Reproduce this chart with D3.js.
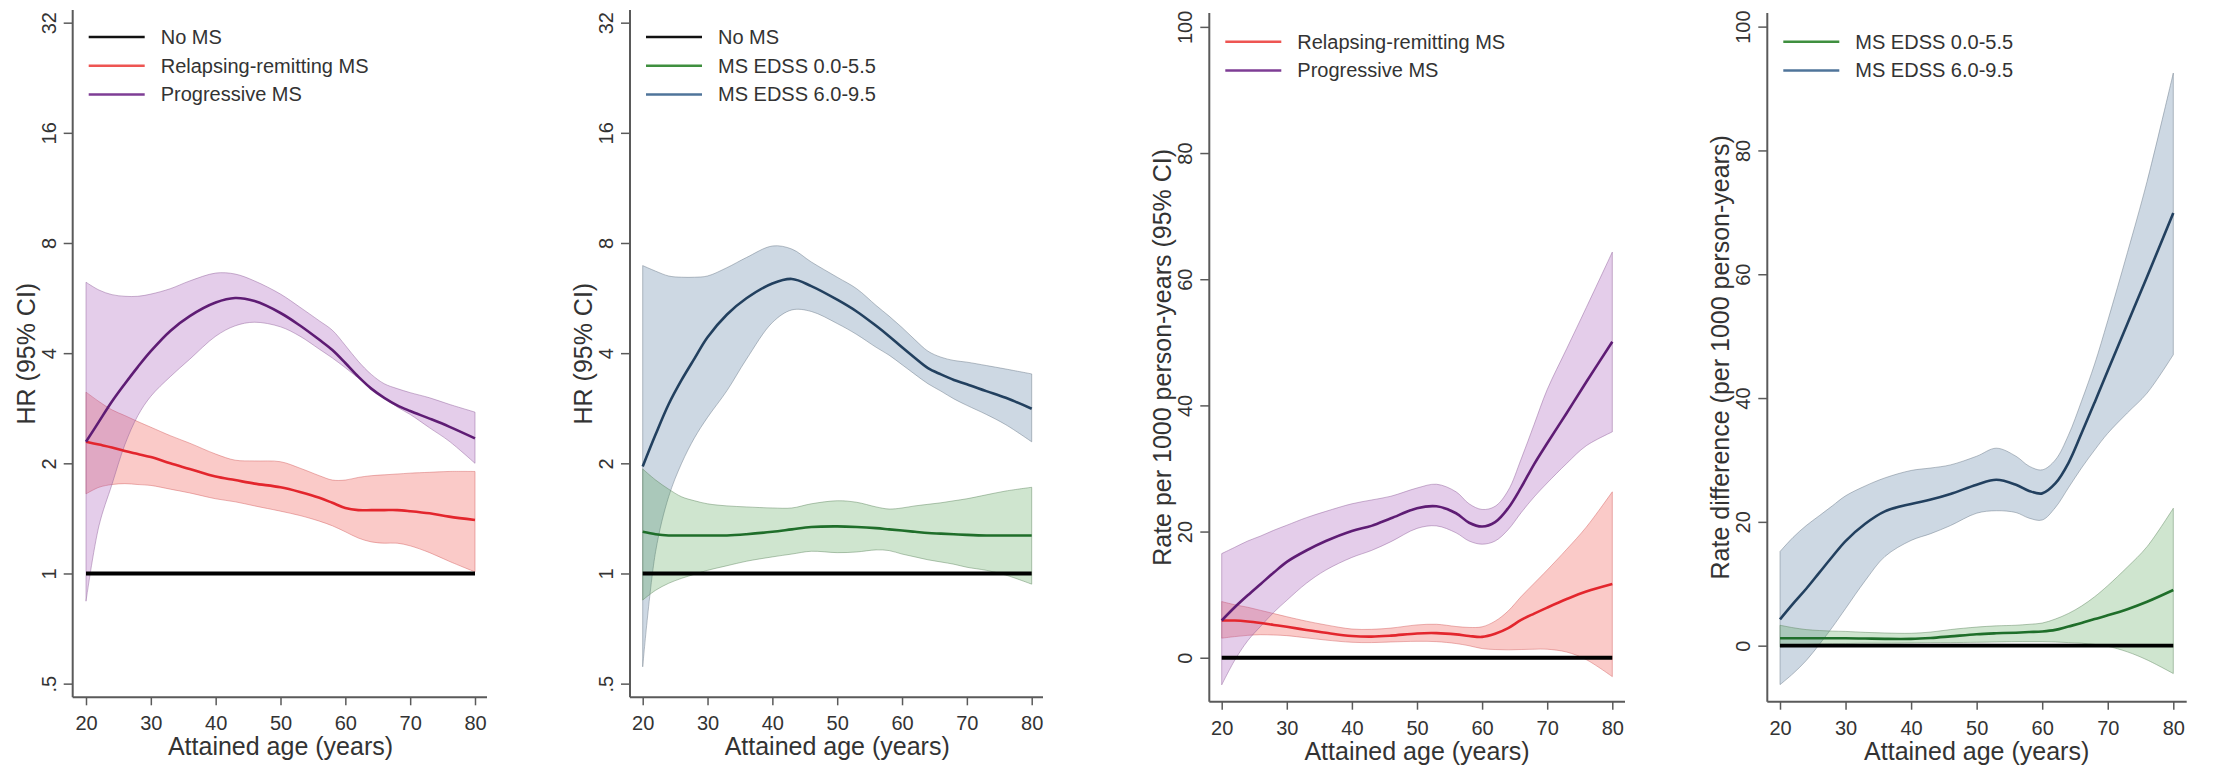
<!DOCTYPE html>
<html><head><meta charset="utf-8">
<script src="https://cdn.jsdelivr.net/npm/d3@7"></script>
<style>
body{margin:0;background:#fff}
svg{display:block}
text{font-family:"Liberation Sans",Arial,sans-serif;fill:#333}
</style>
</head><body>
<svg id="chart" width="2236" height="766"></svg>
<script>
// ---------------- DATA ----------------
const ages = [20,22,24,26,28,30,33,36,40,43,46,50,53,56,58,60,62,64,66,68,70,73,76,80];
const ageTicks = [20,30,40,50,60,70,80];
const hrTicks = [0.5,1,2,4,8,16,32];
const hrTickLabels = [".5","1","2","4","8","16","32"];
const rateTicks = [0,20,40,60,80,100];
const rateTickLabels = ["0","20","40","60","80","100"];

const noMSAges = [20,80];
const noMSHR = [1,1];
const noMSRate = [0,0];

// Panel 1: HR by MS course
const rrHR    = [2.29,2.25,2.21,2.16,2.12,2.08,2.0,1.93,1.84,1.8,1.76,1.72,1.67,1.61,1.56,1.51,1.49,1.49,1.49,1.49,1.48,1.46,1.43,1.40];
const rrHRlo  = [1.65,1.72,1.75,1.76,1.75,1.74,1.7,1.66,1.6,1.57,1.53,1.48,1.44,1.39,1.35,1.3,1.25,1.22,1.21,1.21,1.19,1.14,1.08,1.01];
const rrHRhi  = [3.13,2.95,2.8,2.7,2.6,2.51,2.38,2.27,2.12,2.04,2.03,2.02,1.94,1.85,1.8,1.8,1.83,1.85,1.86,1.87,1.88,1.89,1.9,1.9];
const progHR   = [2.29,2.6,2.95,3.3,3.67,4.05,4.6,5.05,5.5,5.66,5.55,5.15,4.76,4.35,4.08,3.76,3.45,3.2,3.02,2.88,2.78,2.65,2.52,2.34];
const progHRlo = [0.84,1.35,1.75,2.25,2.7,3.05,3.45,3.85,4.45,4.75,4.86,4.72,4.45,4.1,3.88,3.65,3.42,3.22,3.02,2.85,2.72,2.5,2.3,2.0];
const progHRhi = [6.25,5.95,5.78,5.72,5.72,5.8,6.0,6.3,6.62,6.58,6.3,5.8,5.34,4.9,4.62,4.2,3.8,3.5,3.3,3.2,3.12,3.02,2.9,2.76];

// Panel 2: HR by EDSS
const lowHR    = [1.3,1.28,1.27,1.27,1.27,1.27,1.27,1.28,1.3,1.32,1.34,1.345,1.34,1.33,1.32,1.31,1.3,1.29,1.285,1.28,1.275,1.27,1.27,1.27];
const lowHRlo  = [0.846,0.9,0.94,0.97,0.995,1.02,1.05,1.08,1.11,1.13,1.15,1.14,1.145,1.16,1.155,1.13,1.11,1.09,1.075,1.06,1.04,1.02,0.99,0.935];
const lowHRhi  = [1.93,1.8,1.7,1.62,1.58,1.55,1.53,1.52,1.51,1.51,1.55,1.58,1.565,1.52,1.5,1.51,1.53,1.545,1.56,1.58,1.6,1.64,1.68,1.72];
const highHR   = [1.96,2.4,2.9,3.38,3.87,4.42,5.1,5.65,6.2,6.38,6.1,5.6,5.2,4.75,4.45,4.15,3.88,3.64,3.5,3.38,3.29,3.15,3.02,2.82];
const highHRlo = [0.556,1.15,1.62,2.0,2.35,2.67,3.16,3.85,4.85,5.25,5.2,4.82,4.5,4.15,3.95,3.72,3.5,3.3,3.15,3.0,2.88,2.72,2.55,2.29];
const highHRhi = [6.94,6.7,6.5,6.45,6.45,6.5,6.85,7.3,7.85,7.7,7.1,6.45,6.0,5.4,5.05,4.7,4.35,4.05,3.9,3.82,3.78,3.7,3.62,3.51];

// Panel 3: rate by MS course
const rrRate    = [5.9,5.9,5.75,5.5,5.2,4.9,4.4,3.95,3.45,3.35,3.5,3.85,3.9,3.7,3.45,3.3,3.8,4.7,6.0,7.0,7.95,9.3,10.5,11.7];
const rrRatelo  = [3.1,3.35,3.55,3.65,3.6,3.5,3.15,2.8,2.45,2.4,2.5,2.6,2.55,2.25,1.9,1.45,1.3,1.25,1.3,1.35,1.35,0.9,-0.3,-3.0];
const rrRatehi  = [8.9,8.4,8.0,7.5,7.0,6.5,5.8,5.2,4.55,4.5,4.7,5.2,5.3,4.95,4.8,4.9,5.8,7.4,9.7,11.8,13.9,17.2,20.7,26.3];
const progRate   = [5.9,8.0,9.9,11.7,13.5,15.2,17.0,18.5,20.1,20.9,22.1,23.7,24.0,22.9,21.4,20.8,21.5,23.7,27.0,30.7,34.0,38.8,43.7,50.1];
const progRatelo = [-4.3,-0.4,2.7,5.0,7.2,9.1,11.8,13.9,15.9,17.0,18.4,20.5,20.9,19.8,18.5,18.0,18.5,20.3,23.0,25.5,27.7,30.8,33.6,35.8];
const progRatehi = [16.5,17.5,18.5,19.3,20.2,21.0,22.2,23.2,24.4,25.0,25.6,26.9,27.5,26.3,24.4,23.5,24.0,26.5,31.5,37.0,42.5,49.0,55.5,64.3];

// Panel 4: rate difference by EDSS
const lowRate    = [1.2,1.2,1.2,1.2,1.2,1.2,1.15,1.1,1.1,1.25,1.5,1.85,2.0,2.1,2.2,2.3,2.55,3.1,3.65,4.3,4.9,5.9,7.1,9.0];
const lowRatelo  = [-0.2,0.0,0.2,0.3,0.35,0.35,0.4,0.4,0.45,0.5,0.5,0.55,0.6,0.65,0.65,0.65,0.6,0.5,0.4,0.2,-0.1,-1.0,-2.3,-4.5];
const lowRatehi  = [3.3,2.9,2.6,2.45,2.35,2.3,2.15,2.05,2.0,2.2,2.6,3.0,3.2,3.3,3.45,3.65,4.3,5.2,6.4,7.9,9.7,12.7,16.0,22.2];
const highRate   = [4.26,6.8,9.2,11.8,14.4,16.9,19.7,21.7,22.9,23.6,24.5,26.0,26.8,26.0,25.0,24.6,26.2,29.5,34.3,39.3,44.4,52.0,59.6,69.9];
const highRatelo = [-6.3,-4.5,-2.4,0.2,3.0,6.0,10.5,14.4,17.0,18.1,19.4,21.4,21.8,21.5,20.6,20.3,22.3,25.5,28.7,31.6,34.3,37.6,40.8,47.0];
const highRatehi = [15.2,17.5,19.4,21.0,22.6,24.2,25.8,27.1,28.3,28.7,29.2,30.6,31.9,30.6,29.0,28.4,30.0,34.0,39.5,45.5,52.5,63.5,75.0,92.5];

// ---------------- STYLES ----------------
const COL = {
  none:  {line:"#000000"},
  rr:    {line:"#e3262d", band:"rgba(240,80,72,0.30)", edge:"rgba(210,90,90,0.45)", leg:"#ee5552"},
  prog:  {line:"#5e1c74", band:"rgba(165,90,185,0.30)", edge:"rgba(140,90,150,0.45)", leg:"#7e3d95"},
  low:   {line:"#1f6e2a", band:"rgba(70,155,70,0.26)", edge:"rgba(90,130,90,0.45)", leg:"#3f8f3f"},
  high:  {line:"#22405f", band:"rgba(70,110,150,0.27)", edge:"rgba(100,115,130,0.45)", leg:"#4f749a"}
};

const panels = [
  {axisX:72.7, xAxisY:697.3, top:10, xr:[86,475], xEnd:487, log:true,
   yTitle:"HR (95% CI)", legY:37,
   series:[
     {key:"rr", est:rrHR, lo:rrHRlo, hi:rrHRhi},
     {key:"prog", est:progHR, lo:progHRlo, hi:progHRhi}],
   ref:noMSHR,
   legend:[["none","No MS"],["rr","Relapsing-remitting MS"],["prog","Progressive MS"]]},
  {axisX:630, xAxisY:697.3, top:10, xr:[642.7,1031.7], xEnd:1043, log:true,
   yTitle:"HR (95% CI)", legY:37,
   series:[
     {key:"high", est:highHR, lo:highHRlo, hi:highHRhi},
     {key:"low", est:lowHR, lo:lowHRlo, hi:lowHRhi}],
   ref:noMSHR,
   legend:[["none","No MS"],["low","MS EDSS 0.0-5.5"],["high","MS EDSS 6.0-9.5"]]},
  {axisX:1209.3, xAxisY:701.7, top:13, xr:[1221.7,1612.3], xEnd:1625, log:false, yDom:[-6.97,102.2],
   yTitle:"Rate per 1000 person-years (95% CI)", legY:41.7,
   series:[
     {key:"rr", est:rrRate, lo:rrRatelo, hi:rrRatehi},
     {key:"prog", est:progRate, lo:progRatelo, hi:progRatehi}],
   ref:noMSRate,
   legend:[["rr","Relapsing-remitting MS"],["prog","Progressive MS"]]},
  {axisX:1767.3, xAxisY:701.7, top:13, xr:[1780,2173.3], xEnd:2186.7, log:false, yDom:[-9.05,102.2],
   yTitle:"Rate difference (per 1000 person-years)", legY:41.7,
   series:[
     {key:"high", est:highRate, lo:highRatelo, hi:highRatehi},
     {key:"low", est:lowRate, lo:lowRatelo, hi:lowRatehi}],
   ref:noMSRate,
   legend:[["low","MS EDSS 0.0-5.5"],["high","MS EDSS 6.0-9.5"]]}
];

const svg = d3.select("#chart");
const AXIS = "#5a5a5a";

panels.forEach(p => {
  const g = svg.append("g");
  const x = d3.scaleLinear().domain([20,80]).range(p.xr);
  const y = p.log
    ? d3.scaleLog().base(2).domain([Math.pow(2,-1.124), Math.pow(2,5.115)]).range([p.xAxisY, p.top])
    : d3.scaleLinear().domain(p.yDom).range([p.xAxisY, p.top]);
  const curve = d3.curveCatmullRom.alpha(0.5);

  // bands
  p.series.forEach(s => {
    const c = COL[s.key];
    const area = d3.area().curve(curve)
      .x((d,i) => x(ages[i])).y0((d,i) => y(s.lo[i])).y1((d,i) => y(s.hi[i]));
    g.append("path").datum(ages).attr("d", area)
      .attr("fill", c.band).attr("stroke", c.edge).attr("stroke-width", 1);
  });

  // reference line (No MS)
  const refLine = d3.line().x((d,i) => x(noMSAges[i])).y((d,i) => y(p.ref[i]));
  g.append("path").datum(noMSAges).attr("d", refLine)
    .attr("fill","none").attr("stroke", COL.none.line).attr("stroke-width", 3.8);

  // estimate lines
  p.series.forEach(s => {
    const c = COL[s.key];
    const line = d3.line().curve(curve).x((d,i) => x(ages[i])).y((d,i) => y(s.est[i]));
    g.append("path").datum(ages).attr("d", line)
      .attr("fill","none").attr("stroke", c.line).attr("stroke-width", 2.6);
  });

  // y axis
  const yAxis = p.log
    ? d3.axisLeft(y).tickValues(hrTicks).tickFormat((d,i) => hrTickLabels[i])
    : d3.axisLeft(y).tickValues(rateTicks).tickFormat((d,i) => rateTickLabels[i]);
  const ya = g.append("g").attr("transform", `translate(${p.axisX},0)`).call(yAxis.tickSize(9).tickSizeOuter(0));
  ya.select(".domain").remove();
  ya.selectAll(".tick line").attr("stroke", AXIS).attr("stroke-width", 1.5);
  ya.selectAll(".tick text")
    .attr("x", null).attr("dy", null)
    .attr("transform", "translate(-17,0) rotate(-90)")
    .attr("text-anchor","middle")
    .style("font-size","20px").style("font-family",'"Liberation Sans",Arial,sans-serif').attr("fill","#333");
  g.append("line").attr("x1", p.axisX).attr("x2", p.axisX).attr("y1", p.top).attr("y2", p.xAxisY)
    .attr("stroke", AXIS).attr("stroke-width", 2);

  // x axis
  const xa = g.append("g").attr("transform", `translate(0,${p.xAxisY})`)
    .call(d3.axisBottom(x).tickValues(ageTicks).tickFormat(d3.format("d")).tickSize(8).tickSizeOuter(0));
  xa.select(".domain").remove();
  xa.selectAll(".tick line").attr("stroke", AXIS).attr("stroke-width", 1.5);
  xa.selectAll(".tick text").attr("y", 33).attr("dy", null)
    .style("font-size","20px").style("font-family",'"Liberation Sans",Arial,sans-serif').attr("fill","#333");
  g.append("line").attr("x1", p.axisX).attr("x2", p.xEnd).attr("y1", p.xAxisY).attr("y2", p.xAxisY)
    .attr("stroke", AXIS).attr("stroke-width", 2);

  // titles
  g.append("text").attr("x", (p.xr[0]+p.xr[1])/2).attr("y", p.xAxisY + 58)
    .attr("text-anchor","middle").style("font-size","25px").text("Attained age (years)");
  g.append("text")
    .attr("transform", `translate(${p.axisX-38},${(p.top+p.xAxisY)/2}) rotate(-90)`)
    .attr("text-anchor","middle").style("font-size","25px").text(p.yTitle);

  // legend
  p.legend.forEach((it, i) => {
    const ly = p.legY + i*28.7;
    g.append("line").attr("x1", p.axisX+16).attr("x2", p.axisX+72).attr("y1", ly).attr("y2", ly)
      .attr("stroke", it[0]==="none" ? "#111" : COL[it[0]].leg).attr("stroke-width", 2.5);
    g.append("text").attr("x", p.axisX+88).attr("y", ly).attr("dy","0.35em")
      .style("font-size","20px").text(it[1]);
  });
});
</script>
</body></html>
